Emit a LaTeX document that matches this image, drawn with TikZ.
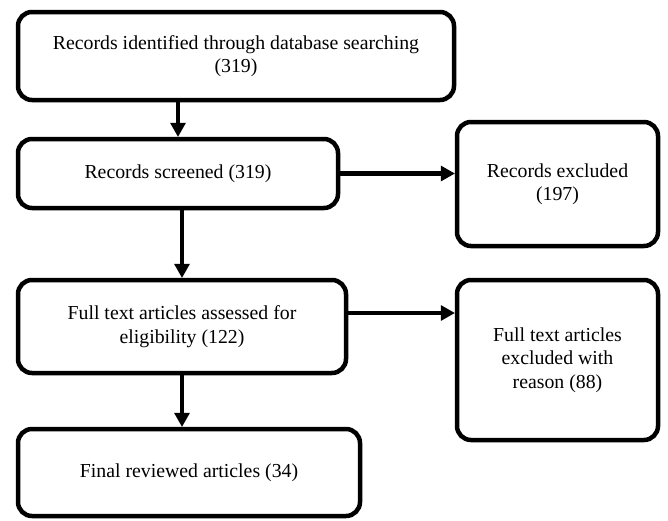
\documentclass[tikz,border=0pt]{standalone}
\usepackage{fontspec}
\setmainfont{Liberation Serif}
\usetikzlibrary{arrows.meta}

\begin{document}
\begin{tikzpicture}[x=1pt, y=-1pt]
        \useasboundingbox (0,0) rectangle (668,520);

        \begin{scope}[every node/.style={rectangle, rounded corners=14pt, draw, line width=4.5pt, inner sep=0pt, align=center, font=\fontsize{19.8}{23.5}\selectfont}]
            \node[minimum width=436pt, minimum height=88pt] (R1) at (236, 56) {Records identified through database searching\\(319)};
            \node[minimum width=320pt, minimum height=69pt] (R2) at (178, 173.5) {Records screened (319)};
            \node[minimum width=328pt, minimum height=93pt] (R3) at (182, 326.5) {Full text articles assessed for\\eligibility (122)};
            \node[minimum width=342pt, minimum height=87pt] (R4) at (189, 472.5) {Final reviewed articles (34)};

            \node[minimum width=201pt, minimum height=124pt] (X1) at (557.5, 184) {Records excluded\\(197)};
            \node[minimum width=201pt, minimum height=160pt] (X2) at (557.5, 360) {Full text articles\\excluded with\\reason (88)};
        \end{scope}

        \coordinate (A3) at ([yshift=13.5pt]R3.east);

        \begin{scope}[every edge/.style={draw=black, line width=4.5pt}]
            \path [-{Triangle[length=14pt, width=16pt, line width=0pt]}] (R1.south -| R2.north) edge (R2.north);
            \path [-{Triangle[length=14pt, width=16pt, line width=0pt]}] (R2.south -| R3.north) edge (R3.north);
            \path [-{Triangle[length=14pt, width=16pt, line width=0pt]}] (R3.south) edge (R3.south |- R4.north);
            \path [-{Triangle[length=14pt, width=16pt, line width=0pt]}] (R2.east) edge (R2.east -| X1.west);
            \path [-{Triangle[length=14pt, width=16pt, line width=0pt]}] (A3) edge (A3 -| X2.west);
        \end{scope}
\end{tikzpicture}
\end{document}
